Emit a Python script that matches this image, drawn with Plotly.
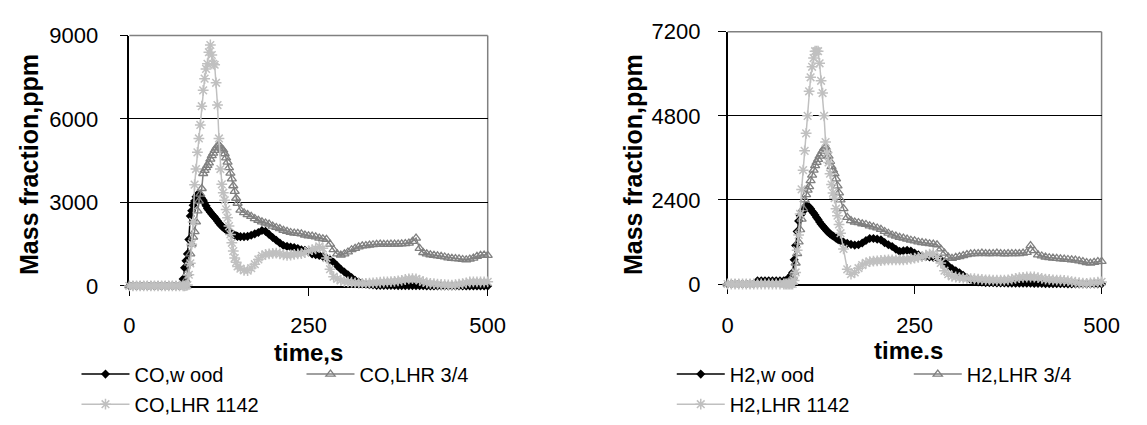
import plotly.graph_objects as go

# ---------------- data ----------------
time_s = [0, 5, 10, 15, 20, 25, 30, 35, 40, 45, 50, 55, 60, 65, 70, 75,
          77, 79, 81, 83, 85, 87, 89, 91, 93, 95, 97, 99, 101, 103, 105, 107, 109, 111, 113, 115,
          117, 119, 121, 123, 125, 127, 129, 131, 133, 135, 137, 139, 141, 143, 145, 147, 149, 151,
          155, 160, 165, 170, 175, 180, 185, 190, 195, 200, 205, 210, 215, 220, 225, 230, 235, 240,
          245, 250, 255, 260, 265, 270, 275, 280, 285, 290, 295, 300, 305, 310, 315, 320, 325, 330,
          335, 340, 345, 350, 355, 360, 365, 370, 375, 380, 385, 390, 395, 400, 405, 410, 415, 420,
          425, 430, 435, 440, 445, 450, 455, 460, 465, 470, 475, 480, 485, 490, 495, 500, 505]

co_wood = [0, 0, 0, 0, 0, 0, 0, 0, 0, 0, 0, 0, 0, 0, 0, 250,
           650, 900, 1150, 1670, 2510, 2700, 2900, 3050, 3200, 3280, 3300, 3220, 3150, 3080, 2980,
           2880, 2780, 2720, 2650, 2580, 2520, 2470, 2400, 2330, 2260, 2200, 2150, 2100, 2060, 2020,
           1980, 1940, 1910, 1880, 1850, 1820, 1800, 1780,
           1770, 1770, 1780, 1820, 1870, 1920, 1990, 1960, 1850, 1740,
           1640, 1540, 1450, 1420, 1400, 1380, 1340, 1300, 1280, 1220,
           1150, 1120, 1090, 1060, 1000, 940, 850, 720, 600, 500,
           400, 300, 200, 140, 90, 60, 40, 30, 20, 20,
           20, 20, 15, 15, 10, 10, 10, 10, 10, 5,
           5, 5, 0, 0, 0, 0, 0, 0, 0, 0,
           0, 0, 0, 0, 0, 0, 0, 0, 0, 0, 0]

co_lhr34 = [0, 0, 0, 0, 0, 0, 0, 0, 0, 0, 0, 0, 0, 0, 0, 0,
            0, 200, 450, 820, 1150, 1500, 1750, 1950, 2300, 2700, 3050, 3300, 3500, 4040, 4150,
            4250, 4330, 4420, 4560, 4680, 4770, 4870, 4960, 5030, 5050, 5000, 4930, 4880, 4750, 4600,
            4450, 4250, 4050, 3850, 3600, 3400, 3150, 2970,
            2720, 2630, 2560, 2500, 2420, 2360, 2300, 2260, 2220, 2150,
            2100, 2060, 2000, 1960, 1920, 1900, 1890, 1870, 1830, 1800,
            1790, 1760, 1720, 1690, 1670, 1500, 1300, 1150, 1110, 1150,
            1220, 1300, 1350, 1400, 1440, 1450, 1470, 1480, 1490, 1500,
            1490, 1490, 1500, 1500, 1500, 1510, 1520, 1540, 1600, 1720,
            1350, 1200, 1150, 1120, 1100, 1080, 1060, 1040, 1010, 990,
            980, 970, 950, 935, 960, 1000, 1060, 1100, 1110, 1100, 1105]

co_lhr1142 = [0, 0, 0, 0, 0, 0, 0, 0, 0, 0, 0, 0, 0, 0, 0, 0,
              0, 10, 30, 400, 810, 1500, 2300, 3640, 4200, 4800, 5300, 5785, 6460, 7030, 7450,
              7800, 7985, 8400, 8660, 8300, 7985, 7950, 7300, 6500, 5300, 4200, 3650, 3350, 3080, 2750,
              2450, 2150, 1850, 1550, 1250, 1000, 850, 700,
              620, 560, 550, 640, 780, 950, 1080, 1130, 1150, 1170,
              1180, 1150, 1120, 1100, 1110, 1130, 1150, 1160, 1200, 1260,
              1300, 1330, 1420, 1350, 1000, 600, 330, 250, 200, 160,
              145, 130, 110, 95, 90, 90, 100, 110, 120, 130,
              140, 145, 150, 160, 180, 200, 230, 250, 260, 250,
              200, 150, 110, 90, 80, 60, 50, 40, 35, 30,
              40, 60, 80, 110, 140, 145, 145, 140, 140, 145, 145]

h2_wood = [0, 0, 0, 0, 0, 0, 0, 0, 90, 90, 90, 90, 90, 90, 90, 90,
           90, 100, 150, 200, 250, 330, 690, 1100, 1500, 1800, 1950, 2000, 2080, 2180, 2230,
           2220, 2200, 2150, 2080, 2030, 1970, 1900, 1840, 1770, 1710, 1660, 1610, 1560, 1510, 1470,
           1430, 1400, 1370, 1340, 1310, 1280, 1260, 1240,
           1200, 1160, 1130, 1110, 1120, 1170, 1240, 1300, 1300, 1280,
           1260, 1180, 1120, 1070, 990, 930, 950, 960, 940, 880,
           830, 790, 780, 770, 760, 740, 700, 620, 520, 440,
           380, 320, 250, 180, 120, 80, 60, 50, 40, 40,
           35, 30, 30, 30, 25, 25, 20, 20, 20, 20,
           20, 15, 15, 15, 10, 10, 10, 10, 10, 10,
           0, 0, 0, 0, 0, 0, 0, 0, 0, 0, 0]

h2_lhr34 = [0, 0, 0, 0, 0, 0, 0, 0, 0, 0, 0, 0, 0, 0, 0, 0,
            0, 0, 0, 0, 80, 200, 330, 600, 870, 1200, 1550, 1850, 2150, 2400, 2550,
            2680, 2780, 2950, 3110, 3250, 3380, 3470, 3560, 3650, 3720, 3800, 3870, 3915, 3800, 3650,
            3500, 3350, 3250, 3150, 3000, 2800, 2600, 2400,
            2150, 1900, 1810, 1770, 1750, 1720, 1700, 1660, 1630, 1600,
            1560, 1500, 1450, 1400, 1370, 1330, 1310, 1280, 1250, 1230,
            1200, 1180, 1170, 1150, 1140, 1120, 1000, 880, 770, 730,
            760, 780, 810, 840, 860, 870, 870, 880, 870, 870,
            870, 880, 870, 860, 870, 870, 870, 870, 880, 900,
            1095, 950, 830, 800, 770, 750, 740, 730, 720, 710,
            700, 690, 680, 660, 640, 610, 600, 620, 640, 645, 645]

h2_lhr1142 = [0, 0, 0, 0, 0, 0, 0, 0, 0, 0, 0, 0, 0, 0, 0, 0,
              0, 0, 0, 0, 0, 0, 100, 330, 960, 1400, 2000, 2700, 3250, 3800, 4300,
              4800, 5500, 5900, 6200, 6450, 6645, 6645, 6645, 6300, 5800, 5450, 4800, 4050, 3750, 3470,
              3150, 2840, 2600, 2450, 2150, 1950, 1700, 1450,
              1000, 420, 280, 330, 450, 540, 600, 640, 650, 660,
              670, 680, 690, 690, 690, 690, 690, 700, 720, 740,
              760, 780, 820, 850, 870, 760, 600, 380, 280, 220,
              200, 180, 170, 160, 155, 150, 140, 130, 120, 115,
              110, 107, 107, 110, 120, 140, 160, 180, 190, 200,
              200, 200, 180, 160, 140, 130, 120, 110, 107, 100,
              90, 70, 50, 35, 25, 20, 30, 40, 50, 60, 60]

for _s in (co_wood, co_lhr34, co_lhr1142, h2_wood, h2_lhr34, h2_lhr1142):
    assert len(_s) == len(time_s), len(_s)

co_names = ["CO,w ood", "CO,LHR 3/4", "CO,LHR 1142"]
h2_names = ["H2,w ood", "H2,LHR 3/4", "H2,LHR 1142"]
x_ticks = [0, 250, 500]
co_ticks = [0, 3000, 6000, 9000]
h2_ticks = [0, 2400, 4800, 7200]
x_titles = ["time,s", "time.s"]
y_title = "Mass fraction,ppm"

# ---------------- styling ----------------
W, H = 1147, 425
FONT = "Liberation Sans, Arial, sans-serif"
BLACK, DGRAY, LGRAY = "#000000", "#808080", "#C0C0C0"

styles = [
    dict(line=dict(color=BLACK, width=1.5),
         marker=dict(symbol="diamond", size=7, color=BLACK)),
    dict(line=dict(color=DGRAY, width=1.5),
         marker=dict(symbol="triangle-up-open", size=8, color=DGRAY, line=dict(color=DGRAY, width=1.3))),
    dict(line=dict(color=LGRAY, width=1.5),
         marker=dict(symbol="asterisk-open", size=9, color=LGRAY, line=dict(color=LGRAY, width=1.5))),
]

fig = go.Figure()

co_series = [co_wood, co_lhr34, co_lhr1142]
h2_series = [h2_wood, h2_lhr34, h2_lhr1142]
co_legends = ["legend", "legend", "legend2"]
h2_legends = ["legend3", "legend3", "legend4"]

for vals, name, st, lg in zip(co_series, co_names, styles, co_legends):
    fig.add_trace(go.Scatter(x=time_s, y=vals, name=name, mode="lines+markers",
                             xaxis="x", yaxis="y", legend=lg, cliponaxis=False, **st))
for vals, name, st, lg in zip(h2_series, h2_names, styles, h2_legends):
    fig.add_trace(go.Scatter(x=time_s, y=vals, name=name, mode="lines+markers",
                             xaxis="x2", yaxis="y2", legend=lg, cliponaxis=False, **st))

def px_x(p):
    return p / W

def px_y(p):
    return (H - p) / H

axis_common = dict(showline=True, linecolor=BLACK, linewidth=1.5, ticks="outside", ticklen=8,
                   tickwidth=1.3, tickcolor=BLACK, zeroline=False, layer="below traces",
                   tickfont=dict(family=FONT, size=22, color=BLACK))

fig.update_layout(
    width=W, height=H, margin=dict(l=0, r=0, t=0, b=0),
    paper_bgcolor="white", plot_bgcolor="white",
    font=dict(family=FONT, color=BLACK),
    xaxis=dict(domain=[px_x(126), px_x(492)], range=[0, 500], tickvals=x_ticks,
               showgrid=False, anchor="y", ticklabelstandoff=11, **axis_common),
    yaxis=dict(domain=[px_y(291), px_y(25)], range=[0, 9000], tickvals=co_ticks,
               showgrid=True, gridcolor=BLACK, gridwidth=1.3, anchor="x",
               ticklabelstandoff=17, **axis_common),
    xaxis2=dict(domain=[px_x(737), px_x(1119)], range=[0, 500], tickvals=x_ticks,
                showgrid=False, anchor="y2", ticklabelstandoff=13, **axis_common),
    yaxis2=dict(domain=[px_y(289), px_y(21)], range=[0, 7200], tickvals=h2_ticks,
                showgrid=True, gridcolor=BLACK, gridwidth=1.3, anchor="x2",
                ticklabelstandoff=13, **axis_common),
    showlegend=True,
)

legend_font = dict(family=FONT, size=20, color=BLACK)
leg_common = dict(orientation="h", xanchor="left", yanchor="top", bgcolor="rgba(0,0,0,0)",
                  borderwidth=0, itemwidth=48, font=legend_font, itemclick=False,
                  itemdoubleclick=False)
fig.update_layout(
    legend=dict(x=px_x(72), y=px_y(364), entrywidth=162, **leg_common),
    legend2=dict(x=px_x(72), y=px_y(396), entrywidth=162, **leg_common),
    legend3=dict(x=px_x(680), y=px_y(364), entrywidth=174, **leg_common),
    legend4=dict(x=px_x(680), y=px_y(396), entrywidth=174, **leg_common),
)

# gray top / right frame lines
shapes = []
for xr, yr in (("x", "y"), ("x2", "y2")):
    shapes.append(dict(type="line", xref=f"{xr} domain", yref=f"{yr} domain", x0=0, x1=1, y0=1, y1=1,
                       line=dict(color=DGRAY, width=1.5), layer="above"))
    shapes.append(dict(type="line", xref=f"{xr} domain", yref=f"{yr} domain", x0=1, x1=1, y0=0, y1=1,
                       line=dict(color=DGRAY, width=1.5), layer="below"))
fig.update_layout(shapes=shapes)

title_font = dict(family=FONT, size=24, color=BLACK)
annotations = [
    dict(text=f"<b>{x_titles[0]}</b>", x=px_x(309), y=px_y(362), xref="paper", yref="paper",
         xanchor="center", yanchor="middle", showarrow=False, font=title_font),
    dict(text=f"<b>{x_titles[1]}</b>", x=px_x(922), y=px_y(360), xref="paper", yref="paper",
         xanchor="center", yanchor="middle", showarrow=False, font=title_font),
    dict(text=f"<b>{y_title}</b>", x=px_x(24), y=px_y(162), xref="paper", yref="paper",
         xanchor="center", yanchor="middle", textangle=-90, showarrow=False,
         font=dict(family=FONT, size=25, color=BLACK)),
    dict(text=f"<b>{y_title}</b>", x=px_x(641), y=px_y(162), xref="paper", yref="paper",
         xanchor="center", yanchor="middle", textangle=-90, showarrow=False,
         font=dict(family=FONT, size=25, color=BLACK)),
]
fig.update_layout(annotations=annotations)

# remove the default 8px page margin so the figure sits at the window's top-left corner
fig.write_html("out.html", config={"displayModeBar": False},
               post_script="document.body.style.margin='0';"
                           "document.documentElement.style.overflow='hidden';")
